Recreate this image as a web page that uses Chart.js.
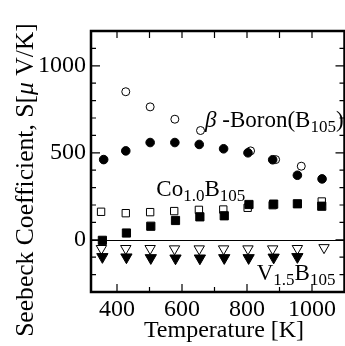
<!DOCTYPE html>
<html>
<head>
<meta charset="utf-8">
<script src="https://cdn.jsdelivr.net/npm/chart.js@4.4.0/dist/chart.umd.min.js"></script>
<style>
html, body { margin: 0; padding: 0; background: #fff; overflow: hidden; }
#wrap { width: 352px; height: 346px; }
</style>
</head>
<body>
<div id="wrap"><canvas id="chart" width="352" height="346"></canvas></div>
<script>
// Temperature [K] and Seebeck coefficient [uV/K]
const betaSolidT = [359, 427, 502, 578, 653, 728, 803, 879, 955, 1031];
const betaSolidS = [461, 511, 559, 559, 548, 523, 500, 460, 371, 350];
const betaOpenT = [427, 502, 578, 657, 811, 888, 967];
const betaOpenS = [851, 764, 693, 628, 511, 461, 423];

const coSolidT = [355, 429, 504, 580, 655, 730, 806, 882, 955, 1030];
const coSolidS = [-3, 39, 78, 111, 132, 138, 203, 205, 207, 193];
const coOpenT = [351, 427, 502, 576, 652, 727, 802, 879, 1030];
const coOpenS = [161, 153, 159, 165, 172, 174, 184, 199, 220];

const vSolidT = [355, 429, 504, 580, 655, 730, 805, 882, 955];
const vSolidS = [-98, -100, -104, -106, -106, -104, -104, -101, -98];
const vOpenT = [352, 427, 502, 577, 653, 728, 803, 879, 955, 1037];
const vOpenS = [-50, -50, -50, -52, -52, -52, -52, -52, -50, -45];

const xTickLabels = [400, 600, 800, 1000];
const yTickLabels = [0, 500, 1000];

const serif = "'Liberation Serif', 'Times New Roman', serif";

function pts(xs, ys) {
    return xs.map((v, i) => ({ x: v, y: ys[i] }));
}

// labels for the three compounds, placed in data coordinates
const notes = [
    { x: 671, y: 648, parts: [['β', 'i'], [' -Boron(B', ''], ['105', 's'], [')', '']] },
    { x: 521, y: 252, parts: [['Co', ''], ['1.0', 's'], ['B', ''], ['105', 's']] },
    { x: 830, y: -231, parts: [['V', ''], ['1.5', 's'], ['B', ''], ['105', 's']] }
];

function partsWidth(ctx, parts, size, subSize) {
    let w = 0;
    parts.forEach(p => {
        ctx.font = (p[1] === 'i' ? 'italic ' : '') + (p[1] === 's' ? subSize : size) + 'px ' + serif;
        w += ctx.measureText(p[0]).width;
    });
    return w;
}

function drawParts(ctx, parts, x, y, size, subSize, subDrop) {
    parts.forEach(p => {
        const [t, kind] = p;
        if (kind === 's') {
            ctx.font = subSize + 'px ' + serif;
            ctx.fillText(t, x, y + subDrop);
        } else {
            ctx.font = (kind === 'i' ? 'italic ' : '') + size + 'px ' + serif;
            ctx.fillText(t, x, y);
        }
        x += ctx.measureText(t).width;
    });
    return x;
}

const framePlugin = {
    id: 'framePlugin',
    beforeDatasetsDraw(chart) {
        const { ctx, chartArea: a, scales: { y } } = chart;
        const y0 = Math.round(y.getPixelForValue(0)) + 0.5;
        ctx.save();
        ctx.strokeStyle = '#000';
        ctx.lineWidth = 1;
        ctx.beginPath();
        ctx.moveTo(a.left, y0);
        ctx.lineTo(a.right, y0);
        ctx.stroke();
        ctx.restore();
    },
    afterDraw(chart) {
        const { ctx, chartArea: a, scales: { x, y } } = chart;
        ctx.save();
        ctx.strokeStyle = '#000';
        ctx.lineWidth = 1.2;
        ctx.beginPath();
        // y ticks every 100, longer at the labelled ones
        for (let v = -300; v <= 1200; v += 100) {
            const py = y.getPixelForValue(v);
            const len = v % 500 === 0 ? 9 : 5;
            ctx.moveTo(a.left, py); ctx.lineTo(a.left + len, py);
            ctx.moveTo(a.right, py); ctx.lineTo(a.right - len, py);
        }
        // x ticks every 100
        for (let v = 400; v <= 1000; v += 100) {
            const px = x.getPixelForValue(v);
            const len = v % 200 === 0 ? 8 : 5;
            ctx.moveTo(px, a.bottom); ctx.lineTo(px, a.bottom - len);
            ctx.moveTo(px, a.top); ctx.lineTo(px, a.top + 7);
        }
        ctx.stroke();

        ctx.lineWidth = 2.5;
        ctx.strokeRect(a.left, a.top, a.right - a.left, a.bottom - a.top);

        ctx.fillStyle = '#000';
        ctx.textBaseline = 'alphabetic';
        ctx.textAlign = 'left';
        notes.forEach(n => {
            drawParts(ctx, n.parts, x.getPixelForValue(n.x), y.getPixelForValue(n.y), 23, 17, 5);
        });

        // x axis title
        const xParts = [['Temperature [K]', '']];
        const xw = partsWidth(ctx, xParts, 24, 24);
        drawParts(ctx, xParts, 224 - xw / 2, 337, 24, 24, 0);

        // y axis title, rotated, with italic mu
        const yParts = [['Seebeck Coefficient, S[', ''], ['μ', 'i'], [' V/K]', '']];
        const yw = partsWidth(ctx, yParts, 25.6, 25.6);
        ctx.translate(33, 180);
        ctx.rotate(-Math.PI / 2);
        drawParts(ctx, yParts, -yw / 2, 0, 25.6, 25.6, 0);
        ctx.restore();
    }
};

const ctx = document.getElementById('chart').getContext('2d');
const chart = new Chart(ctx, {
    type: 'scatter',
    data: {
        datasets: [
            { data: pts(betaSolidT, betaSolidS), pointStyle: 'circle', pointRadius: 4.3, backgroundColor: '#000', borderColor: '#000', borderWidth: 1 },
            { data: pts(coSolidT, coSolidS), pointStyle: 'rect', pointRadius: 5.8, backgroundColor: '#000', borderColor: '#000', borderWidth: 1 },
            { data: pts(vSolidT, vSolidS), pointStyle: 'triangle', rotation: 180, pointRadius: 6.5, backgroundColor: '#000', borderColor: '#000', borderWidth: 1 },
            { data: pts(betaOpenT, betaOpenS), pointStyle: 'circle', pointRadius: 4, backgroundColor: '#fff', borderColor: '#000', borderWidth: 1 },
            { data: pts(coOpenT, coOpenS), pointStyle: 'rect', pointRadius: 5.2, backgroundColor: '#fff', borderColor: '#000', borderWidth: 1 },
            { data: pts(vOpenT, vOpenS), pointStyle: 'triangle', rotation: 180, pointRadius: 6, backgroundColor: '#fff', borderColor: '#000', borderWidth: 1 }
        ]
    },
    options: {
        responsive: false,
        animation: false,
        devicePixelRatio: 1,
        layout: { padding: { top: 31, right: 1, left: 0, bottom: 0 } },
        plugins: { legend: { display: false }, tooltip: { enabled: false } },
        scales: {
            x: {
                type: 'linear', min: 320, max: 1100,
                grid: { display: false, drawTicks: false }, border: { display: false },
                afterBuildTicks: s => { s.ticks = xTickLabels.map(v => ({ value: v })); },
                afterFit: s => { s.height = 54; },
                ticks: { color: '#000', font: { family: serif, size: 24 }, padding: 3, maxRotation: 0, callback: v => String(v) },
                title: { display: false }
            },
            y: {
                type: 'linear', min: -300, max: 1200,
                grid: { display: false, drawTicks: false }, border: { display: false },
                afterBuildTicks: s => { s.ticks = yTickLabels.map(v => ({ value: v })); },
                afterFit: s => { s.width = 91; },
                ticks: { color: '#000', font: { family: serif, size: 24 }, padding: 5, callback: v => String(v) },
                title: { display: false }
            }
        }
    },
    plugins: [framePlugin]
});
</script>
</body>
</html>
